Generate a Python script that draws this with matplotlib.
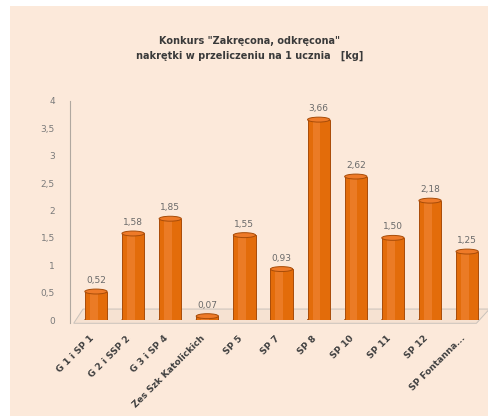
import matplotlib
matplotlib.use("Agg")
import matplotlib.pyplot as plt
from matplotlib.patches import Ellipse, Polygon
import numpy as np

categories = ["G 1 i SP 1", "G 2 i SSP 2", "G 3 i SP 4", "Zes Szk Katolickich", "SP 5", "SP 7",
              "SP 8", "SP 10", "SP 11", "SP 12", "SP Fontanna..."]
values = [0.52, 1.58, 1.85, 0.07, 1.55, 0.93, 3.66, 2.62, 1.50, 2.18, 1.25]
yticks = [0, 0.5, 1, 1.5, 2, 2.5, 3, 3.5, 4]
ytick_labels = ["0", "0,5", "1", "1,5", "2", "2,5", "3", "3,5", "4"]
title = 'Konkurs "Zakręcona, odkręcona"\nnakrętki w przeliczeniu na 1 ucznia   [kg]'

bg = "#FCE9DA"
fig = plt.figure(figsize=(4.89, 4.16), dpi=100, facecolor="white")
bgax = fig.add_axes([10/489, 0, 1 - 10/489, 1 - 6/416], zorder=-10)
bgax.set_facecolor(bg)
bgax.set_xticks([]); bgax.set_yticks([])
for s in bgax.spines.values():
    s.set_visible(False)

ax = fig.add_axes([70/489, 1 - 320/416, 412/489, 219/416])
ax.set_facecolor("none")
x = np.arange(len(categories))
w = 0.6
n = len(categories)

# floor (pseudo 3D)
floor = Polygon([(-0.6, -0.06), (n - 0.75, -0.06), (n - 0.4, 0.2), (-0.35, 0.2)], closed=True,
                facecolor="#f6e2d2", edgecolor="#c9c2bb", linewidth=0.7, zorder=1, clip_on=False)
ax.add_patch(floor)

ax.bar(x, values, width=w, color="#E36C0A", edgecolor="#A84C08", linewidth=0.7, zorder=3)
# cylinder shading
ax.bar(x - w * 0.1, values, width=w * 0.35, color="#F2893C", edgecolor="none", zorder=4, alpha=0.55)
cap_h = 0.09
for xi, v in zip(x, values):
    ax.add_patch(Ellipse((xi, v), w, cap_h, facecolor="#EE7A28", edgecolor="#A84C08",
                         linewidth=0.7, zorder=5))
    ax.add_patch(Ellipse((xi, 0), w, cap_h, facecolor="#C95F0C", edgecolor="#A84C08",
                         linewidth=0.7, zorder=2))
    ax.text(xi, v + 0.12, f"{v:.2f}".replace(".", ","), ha="center", va="bottom",
            fontsize=6.5, color="#6a6a6a", zorder=6)

# category labels (rotated, placed below-left of each bar)
for xi, lab in zip(x, categories):
    ax.annotate(lab, xy=(xi, 0), xycoords="data", xytext=(-5, -10), textcoords="offset points",
                rotation=45, ha="right", va="top", rotation_mode="anchor",
                fontsize=6.5, fontweight="bold", color="#404040", annotation_clip=False)

ax.set_xlim(-0.7, n - 0.6)
ax.set_ylim(0, 4)
ax.set_yticks(yticks)
ax.set_yticklabels(ytick_labels, fontsize=6.5, color="#7a7a7a")
ax.set_xticks([])
ax.tick_params(axis="y", length=0, pad=11)
for s in ["top", "right", "bottom"]:
    ax.spines[s].set_visible(False)
ax.spines["left"].set_color("#b0a8a0")
ax.spines["left"].set_linewidth(0.8)
ax.spines["left"].set_bounds(-0.06, 4)

fig.text(0.51, 1 - 48.5/416, title, ha="center", va="center", fontsize=7, fontweight="bold",
         color="#3a3a3a", linespacing=1.7)

fig.savefig("out.png", dpi=100, facecolor="white")
